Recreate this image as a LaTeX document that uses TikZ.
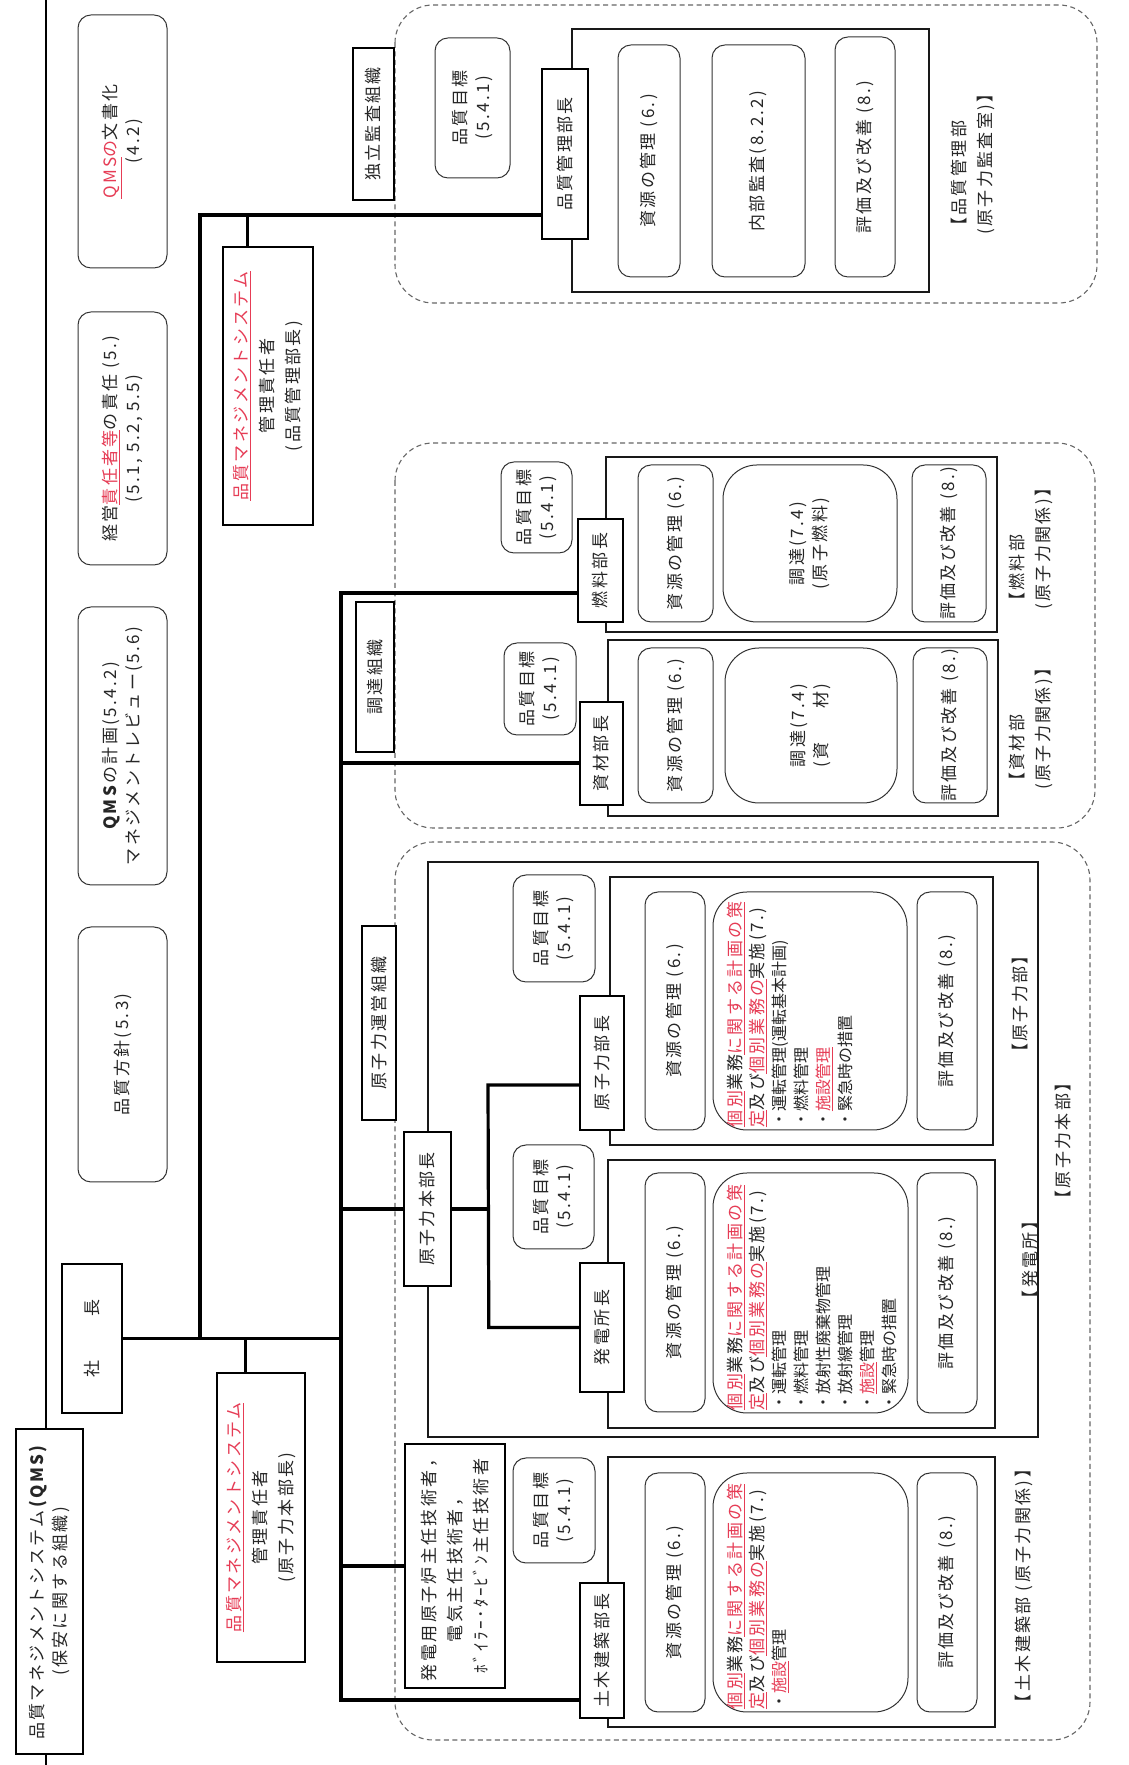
\documentclass[tikz,border=0pt]{standalone}
\usepackage{fontspec}
\setmainfont{Noto Sans CJK JP}[LetterSpace=14]
\newfontfamily\pjp{Noto Sans CJK JP}
\usetikzlibrary{calc}
\definecolor{rd}{RGB}{230,60,85}
\newcommand\rul[1]{\textcolor{rd}{\underline{#1}}}
\newcommand\rtx[1]{\textcolor{rd}{#1}}
\newcommand\myBul{\pjp\fontsize{16}{22}\selectfont}
\newcommand\myBx[7]{\node[#1,minimum width={(#4)-(#3)},minimum height={(#6)-(#5)}] (#2) at ({((#3)+(#4))/2},{-((#5)+(#6))/2}) {#7};}
\begin{document}
\begin{tikzpicture}[x=1pt,y=1pt,rotate=90,transform shape,
  font=\fontsize{17}{23}\selectfont, text=black!85,
  box/.style={draw=black, line width=1.6pt, fill=white, inner sep=1pt, align=center},
  thick box/.style={draw=black, line width=2.7pt, fill=white, inner sep=1pt, align=center, font=\fontsize{17}{26}\selectfont},
  rbox/.style={draw=black!80, line width=1pt, rounded corners=13pt, fill=white, inner sep=1pt, align=center},
  bigr/.style={draw=black!80, line width=1pt, rounded corners=34pt, fill=white, inner sep=1pt, align=center},
  frame/.style={draw=black!90, line width=1.4pt},
  grp/.style={draw=black!60, line width=1.1pt, dash pattern=on 5pt off 3.5pt, rounded corners=38pt},
  conn/.style={draw=black, line width=3.2pt},
  lab/.style={inner sep=0pt, align=left, font=\fontsize{17}{26}\selectfont},
  ktext/.style={inner sep=0pt, align=left, anchor=north west, font=\fontsize{17}{22}\selectfont},
]
\useasboundingbox (0,0) rectangle (1765,-1128);
% left border line
\draw[line width=1.3pt] (0,-46) -- (1765,-46);
% dashed groups
\myBx{grp}{gQ}{1462}{1760}{395}{1097}{}
\myBx{grp}{gN}{937}{1322}{395}{1095}{}
\myBx{grp}{gH}{25}{923}{395}{1090}{}
% frames
\myBx{frame}{rQ}{1473}{1736}{572}{929}{}
\myBx{frame}{rN}{1133}{1308}{606}{997}{}
\myBx{frame}{rS}{949}{1125}{608}{998}{}
\myBx{frame}{rH}{328}{903}{428}{1038}{}
\myBx{frame}{rG}{620}{888}{610}{993}{}
\myBx{frame}{rP}{337}{605}{608}{995}{}
\myBx{frame}{rD}{38}{308}{608}{995}{}
% top band
\myBx{rbox}{bunsho}{1497}{1750}{78}{167}{\rul{QMS}\rtx{の}文書化\\(4.2)}
\myBx{rbox}{sekinin}{1200}{1453}{78}{167}{経営\rul{責任者等}の責任 (5.)\\(5.1, 5.2, 5.5)}
\myBx{rbox}{keikaku}{880}{1158}{78}{167}{\textbf{QMS}の計画(5.4.2)\\マネジメントレビュー(5.6)}
\myBx{rbox}{hoshin}{583}{838}{78}{167}{品質方針(5.3)}
\myBx{box, line width=1.7pt}{qms}{11}{336}{16}{83}{品質マネジメントシステム\textbf{(QMS)}\\(保安に関する組織)}
\myBx{thick box}{shacho}{352}{501}{62}{122}{社\hspace{44pt}長}
\myBx{thick box}{msA}{103}{392}{217}{305}{\rul{品質マネジメントシステム}\\管理責任者\\(原子力本部長)}
\myBx{thick box}{msB}{1240}{1518}{223}{313}{\rul{品質マネジメントシステム}\\管理責任者\\(品質管理部長)}
% organisation tags
\myBx{box, line width=1.4pt}{kansa}{1565}{1717}{353}{394}{独立監査組織}
\myBx{box, line width=1.4pt}{chotatsu}{1013}{1163}{356}{394}{調達組織}
\myBx{box, line width=1.4pt}{unei}{645}{839}{362}{396}{原子力運営組織}
% quality management dept
\myBx{rbox}{mokQ}{1587}{1727}{435}{510}{品質目標\\(5.4.1)}
\myBx{rbox}{shiQ}{1488}{1720}{618}{680}{資源の管理 (6.)}
\myBx{rbox}{naibu}{1488}{1720}{712}{805}{内部監査(8.2.2)}
\myBx{rbox}{hyoQ}{1488}{1728}{835}{895}{評価及び改善 (8.)}
% fuel dept
\myBx{rbox}{mokN}{1212}{1303}{501}{572}{品質目標\\(5.4.1)}
\myBx{rbox}{shiN}{1143}{1300}{638}{713}{資源の管理 (6.)}
\myBx{bigr}{choN}{1143}{1300}{723}{897}{調達(7.4)\\(原子燃料)}
\myBx{rbox}{hyoN}{1143}{1300}{912}{986}{評価及び改善 (8.)}
% materials dept
\myBx{rbox}{mokS}{1030}{1122}{504}{576}{品質目標\\(5.4.1)}
\myBx{rbox}{shiS}{962}{1117}{638}{713}{資源の管理 (6.)}
\myBx{bigr}{choS}{962}{1117}{725}{897}{調達(7.4)\\(資\hspace{2em}材)}
\myBx{rbox}{hyoS}{962}{1117}{913}{987}{評価及び改善 (8.)}
% nuclear dept
\myBx{rbox}{mokG}{783}{890}{513}{595}{品質目標\\(5.4.1)}
\myBx{rbox}{shiG}{635}{873}{645}{705}{資源の管理 (6.)}
\myBx{bigr}{kobG}{635}{873}{713}{907}{}
\myBx{rbox}{hyoG}{635}{873}{917}{977}{評価及び改善 (8.)}
% power station
\myBx{rbox}{mokP}{516}{620}{513}{594}{品質目標\\(5.4.1)}
\myBx{rbox}{shiP}{353}{592}{645}{705}{資源の管理 (6.)}
\myBx{bigr}{kobP}{352}{592}{713}{908}{}
\myBx{rbox}{hyoP}{352}{592}{917}{977}{評価及び改善 (8.)}
% civil engineering
\myBx{box, line width=2pt, font=\fontsize{17}{26}\selectfont}{shunin}{77}{321}{405}{505}{発電用原子炉主任技術者，\\電気主任技術者，\\ﾎﾞｲﾗｰ･ﾀｰﾋﾞﾝ主任技術者}
\myBx{rbox}{mokD}{202}{307}{513}{595}{品質目標\\(5.4.1)}
\myBx{rbox}{shiD}{53}{292}{645}{705}{資源の管理 (6.)}
\myBx{bigr}{kobD}{53}{292}{713}{908}{}
\myBx{rbox}{hyoD}{53}{292}{917}{977}{評価及び改善 (8.)}
% texts of the procedure boxes
\node[ktext] (kobGt) at ($(kobG.north west)+(3,-14)$) {\rul{個別}業務\rul{に関する計画の策}\\\rul{定}及び\rul{個別業務の}実施(7.)\\{\myBul ・運転管理(運転基本計画)}\\{\myBul ・燃料管理}\\{\myBul ・\rul{施設管理}}\\{\myBul ・緊急時の措置}};
\node[ktext] (kobPt) at ($(kobP.north west)+(3,-14)$) {\rul{個別}業務\rul{に関する計画の策}\\\rul{定}及び\rul{個別業務の}実施(7.)\\{\myBul ・運転管理}\\{\myBul ・燃料管理}\\{\myBul ・放射性廃棄物管理}\\{\myBul ・放射線管理}\\{\myBul ・\rul{施設}管理}\\{\myBul ・緊急時の措置}};
\node[ktext] (kobDt) at ($(kobD.north west)+(3,-14)$) {\rul{個別}業務\rul{に関する計画の策}\\\rul{定}及び\rul{個別業務の}実施(7.)\\{\myBul ・\rul{施設}管理}};
% heads
\myBx{box}{buchoQ}{1526}{1696}{542}{588}{品質管理部長}
\myBx{box}{buchoN}{1143}{1246}{578}{623}{燃料部長}
\myBx{box}{buchoS}{960}{1063}{580}{623}{資材部長}
\myBx{box}{honbucho}{479}{633}{404}{451}{原子力本部長}
\myBx{box}{genbucho}{635}{769}{580}{624}{原子力部長}
\myBx{box}{hatsubucho}{373}{502}{580}{624}{発電所長}
\myBx{box}{dobokucho}{47}{182}{580}{624}{土木建築部長}
% labels
\node[lab, anchor=west] (labQ) at (1530,-973) {【品質管理部\\(原子力監査室)】};
\node[lab, anchor=west] (labN) at (1155,-1031) {【燃料部\\(原子力関係)】};
\node[lab, anchor=west] (labS) at (975,-1031) {【資材部\\(原子力関係)】};
\node[lab] (labG) at (761,-1020) {【原子力部】};
\node[lab] (labH) at (624,-1063) {【原子力本部】};
\node[lab] (labP) at (505,-1030) {【発電所】};
\node[lab] (labD) at (179,-1024) {【土木建築部 (原子力関係)】};
% connectors
\coordinate (tL) at (65,-341);
\coordinate (tR) at (1172,-341);
\coordinate (sj) at (1002,-341);
\coordinate (qj) at (1550,-200);
\draw[conn] (tL |- dobokucho.north) -- (tL) -- (tR) -- (tR |- buchoN.north);
\draw[conn] (sj) -- (sj |- buchoS.north);
\draw[conn] (shunin.north |- tL) -- (shunin.north);
\draw[conn] (honbucho.north |- tL) -- (honbucho.north);
\draw[conn] (shacho.south) -- (shacho.south |- tL);
\draw[conn] (shacho.south |- qj) -- (qj) -- (qj |- buchoQ.north);
\coordinate (sb) at ($(msB.north east)+(0,-26)$);
\draw[conn] (sb) -- (sb -| qj);
\coordinate (sa) at ($(msA.north east)+(0,-30)$);
\draw[conn] (sa) -- (sa -| shacho.south);
\coordinate (hj) at ($(honbucho.south)+(0,-37)$);
\coordinate (hg) at (680,-488);
\draw[conn] (honbucho.south) -- (hj);
\draw[conn] (hatsubucho.north) -- (hatsubucho.north |- hj) -- (hg) -- (hg |- genbucho.north);
\end{tikzpicture}
\end{document}
